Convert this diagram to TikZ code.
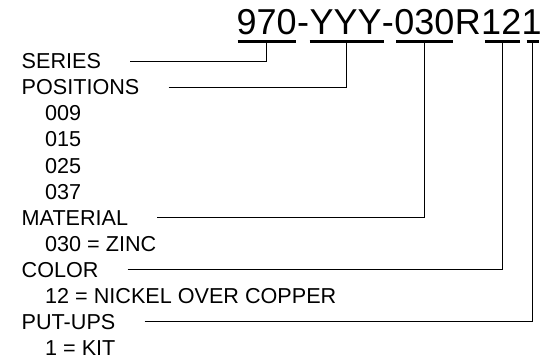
\documentclass[tikz,border=0pt]{standalone}
\usepackage{fontspec}
\setmainfont{Liberation Sans}
\usetikzlibrary{calc}
\begin{document}
\begin{tikzpicture}[x=1pt,y=-1pt,
  title/.style={font=\fontsize{36}{36}\selectfont, inner sep=0pt, anchor=base west, text depth=0pt},
  lbl/.style={font=\fontsize{21.6}{21.6}\selectfont, inner sep=0pt, anchor=base west, text height=15.4pt, text depth=0pt},
  bar/.style={line width=3pt},
  conn/.style={line width=1pt},
  connthick/.style={line width=1.5pt}]
\useasboundingbox (0,0) rectangle (556,358);
% code segments
\node[title] (s970) at (236.5,35) {970};
\node[title] (h1) at (s970.base east) {-};
\node[title] (sYYY) at (h1.base east) {YYY};
\node[title] (h2) at (sYYY.base east) {-};
\node[title] (s030) at (h2.base east) {030};
\node[title] (sR) at (s030.base east) {R};
\node[title] (s12) at (sR.base east) {12};
\node[title] (s1) at (s12.base east) {1};
% bar centres
\coordinate (b970) at ($(s970.base)+(0,6.5)$);
\coordinate (bYYY) at ($(sYYY.base)+(1,6.5)$);
\coordinate (b030) at ($(s030.base)+(0.5,6.5)$);
\coordinate (b12) at ($(s12.base)+(1,6.5)$);
\coordinate (b1) at ($(s1.base)+(1,6.5)$);
\draw[bar] ($(b970)+(-29,0)$) -- ($(b970)+(29,0)$);
\draw[bar] ($(bYYY)+(-37,0)$) -- ($(bYYY)+(37,0)$);
\draw[bar] ($(b030)+(-28.5,0)$) -- ($(b030)+(28.5,0)$);
\draw[bar] ($(b12)+(-17.5,0)$) -- ($(b12)+(17.5,0)$);
\draw[bar] ($(b1)+(-6,0)$) -- ($(b1)+(6,0)$);
% labels
\node[lbl] (series) at (21.5,69) {SERIES};
\node[lbl] (positions) at (21.5,95) {POSITIONS};
\node[lbl] (v009) at (45,121) {009};
\node[lbl] (v015) at (45,147) {015};
\node[lbl] (v025) at (45,173) {025};
\node[lbl] (v037) at (45,199) {037};
\node[lbl] (material) at (21.5,225) {MATERIAL};
\node[lbl] (zinc) at (45,251) {030 = ZINC};
\node[lbl] (color) at (21.5,277) {COLOR};
\node[lbl] (nickel) at (45,303) {12 = NICKEL OVER COPPER};
\node[lbl] (putups) at (21.5,329) {PUT-UPS};
\node[lbl] (kit) at (45,355) {1 = KIT};
% connectors
\draw[conn] ([xshift=29pt]series.east) -| (b970);
\draw[conn] ([xshift=29pt]positions.east) -| (bYYY);
\draw[conn] ([xshift=29pt]material.east) -| (b030);
\draw[conn] ([xshift=29pt]color.east) -| (b12);
\draw[connthick] ([xshift=29pt]putups.east) -| (b1);
\end{tikzpicture}
\end{document}
